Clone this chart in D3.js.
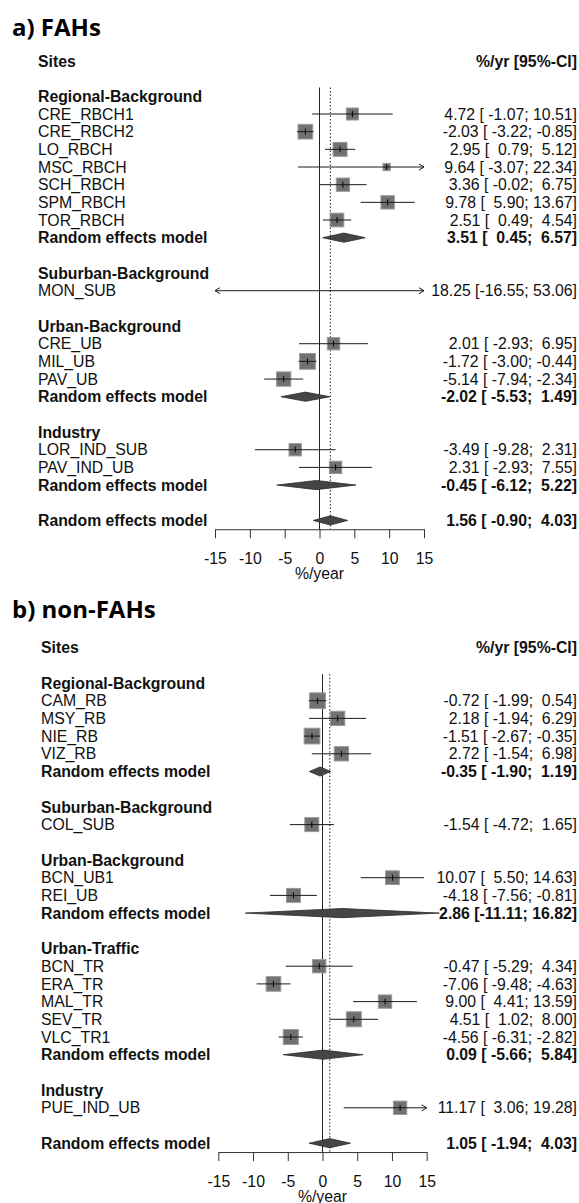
<!DOCTYPE html>
<html>
<head>
<meta charset="utf-8">
<script src="https://cdn.jsdelivr.net/npm/d3@7"></script>
<style>
  body { margin: 0; background: #fff; }
  svg text { font-family: "Liberation Sans", Arial, sans-serif; font-size: 15.8px; fill: #111; white-space: pre; }
  svg text.title { font-family: "Open Sans", sans-serif; font-weight: 700; font-size: 24px; fill: #000; }
  svg text.b { font-weight: bold; }
</style>
</head>
<body>
<svg id="chart" width="579" height="1203"></svg>
<script>
// a) FAHs
const groupsA = ["Regional-Background", "Suburban-Background", "Urban-Background", "Industry"]
const sitesA = ["CRE_RBCH1", "CRE_RBCH2", "LO_RBCH", "MSC_RBCH", "SCH_RBCH", "SPM_RBCH", "TOR_RBCH",
                "MON_SUB", "CRE_UB", "MIL_UB", "PAV_UB", "LOR_IND_SUB", "PAV_IND_UB"]
const siteGroupA = [0, 0, 0, 0, 0, 0, 0, 1, 2, 2, 2, 3, 3]
const estA  = [4.72, -2.03, 2.95, 9.64, 3.36, 9.78, 2.51, 18.25, 2.01, -1.72, -5.14, -3.49, 2.31]
const lowA  = [-1.07, -3.22, 0.79, -3.07, -0.02, 5.90, 0.49, -16.55, -2.93, -3.00, -7.94, -9.28, -2.93]
const highA = [10.51, -0.85, 5.12, 22.34, 6.75, 13.67, 4.54, 53.06, 6.95, -0.44, -2.34, 2.31, 7.55]
const weightA = [5.8, 8.6, 7.8, 2.1, 7.1, 7.1, 7.5, 0.4, 6.1, 9.9, 8.2, 6.1, 6.1]
const remEstA  = [3.51, null, -2.02, -0.45]
const remLowA  = [0.45, null, -5.53, -6.12]
const remHighA = [6.57, null, 1.49, 5.22]
const overallA = [1.56, -0.90, 4.03]

// b) non-FAHs
const groupsB = ["Regional-Background", "Suburban-Background", "Urban-Background", "Urban-Traffic", "Industry"]
const sitesB = ["CAM_RB", "MSY_RB", "NIE_RB", "VIZ_RB", "COL_SUB", "BCN_UB1", "REI_UB",
                "BCN_TR", "ERA_TR", "MAL_TR", "SEV_TR", "VLC_TR1", "PUE_IND_UB"]
const siteGroupB = [0, 0, 0, 0, 1, 2, 2, 3, 3, 3, 3, 3, 4]
const estB  = [-0.72, 2.18, -1.51, 2.72, -1.54, 10.07, -4.18, -0.47, -7.06, 9.00, 4.51, -4.56, 11.17]
const lowB  = [-1.99, -1.94, -2.67, -1.54, -4.72, 5.50, -7.56, -5.29, -9.48, 4.41, 1.02, -6.31, 3.06]
const highB = [0.54, 6.29, -0.35, 6.98, 1.65, 14.63, -0.81, 4.34, -4.63, 13.59, 8.00, -2.82, 19.28]
const weightB = [9.9, 8.2, 9.9, 8.2, 7.8, 7.5, 7.8, 7.1, 8.6, 7.1, 9.0, 9.0, 7.1]
const remEstB  = [-0.35, null, 2.86, 0.09, null]
const remLowB  = [-1.90, null, -11.11, -5.66, null]
const remHighB = [1.19, null, 16.82, 5.84, null]
const overallB = [1.05, -1.94, 4.03]

const xTicks = [-15, -10, -5, 0, 5, 10, 15]
const svg = d3.select("#chart")

function pad(v, w) {
    const s = v.toFixed(2)
    return " ".repeat(Math.max(0, w - s.length)) + s
}
function ciText(e, l, h) {
    return pad(e, 5) + " [" + pad(l, 6) + "; " + pad(h, 5) + "]"
}

function drawPanel(p) {
    const g = svg.append("g")
    const x = d3.scaleLinear().domain([-15, 15]).range([p.x0, p.x1])
    const y = r => p.row0 + r * p.rowH
    const box = d3.scaleSqrt().domain([0, 1]).range([0, 5])

    // build the row layout
    const rows = []
    let r = -1
    p.groups.forEach(function(name, gi) {
        rows.push({type: "head", label: name, r: r++})
        p.sites.forEach(function(s, i) {
            if (p.siteGroup[i] === gi) rows.push({type: "site", i: i, label: s, r: r++})
        })
        if (p.remEst[gi] !== null) {
            rows.push({type: "rem", e: p.remEst[gi], l: p.remLow[gi], h: p.remHigh[gi], r: r++})
        }
        r++
    })
    rows.push({type: "rem", e: p.overall[0], l: p.overall[1], h: p.overall[2], r: r})
    const axisY = y(r) + p.rowH / 2

    // title and headers
    g.append("text").attr("class", "title").attr("x", 12).attr("y", p.titleY).text(p.title)
    g.append("text").attr("class", "b").attr("x", p.labelX).attr("y", y(-3)).attr("dy", "0.36em").text("Sites")
    g.append("text").attr("class", "b").attr("x", 577).attr("y", y(-3)).attr("dy", "0.36em")
        .attr("text-anchor", "end").text("%/yr [95%-CI]")

    // reference lines
    const topY = y(-1.5)
    g.append("line").attr("x1", x(0)).attr("x2", x(0)).attr("y1", topY).attr("y2", axisY)
        .attr("stroke", "#222").attr("stroke-width", 1)
    g.append("line").attr("x1", x(p.overall[0])).attr("x2", x(p.overall[0])).attr("y1", topY).attr("y2", axisY)
        .attr("stroke", "#222").attr("stroke-width", 1).attr("stroke-dasharray", "1.5,2")

    rows.forEach(function(row) {
        const cy = y(row.r)
        if (row.type === "head") {
            g.append("text").attr("class", "b").attr("x", p.labelX).attr("y", cy).attr("dy", "0.36em").text(row.label)
            return
        }
        if (row.type === "site") {
            const i = row.i
            const e = p.est[i], l = p.low[i], h = p.high[i]
            g.append("text").attr("x", p.labelX).attr("y", cy).attr("dy", "0.36em").text(row.label)
            g.append("text").attr("x", 577).attr("y", cy).attr("dy", "0.36em").attr("text-anchor", "end")
                .text(ciText(e, l, h))
            if (e >= -15 && e <= 15) {
                const s = box(p.weight[i])
                g.append("rect").attr("x", x(e) - s / 2).attr("y", cy - s / 2).attr("width", s).attr("height", s)
                    .attr("fill", "#717171").attr("stroke", "#9a9a9a").attr("stroke-width", 1)
            }
            const lx = x(Math.max(l, -15)), hx = x(Math.min(h, 15))
            g.append("line").attr("x1", lx).attr("x2", hx).attr("y1", cy).attr("y2", cy)
                .attr("stroke", "#1a1a1a").attr("stroke-width", 1)
            if (l < -15) {
                g.append("path").attr("d", `M${lx + 5},${cy - 3}L${lx},${cy}L${lx + 5},${cy + 3}`)
                    .attr("fill", "none").attr("stroke", "#1a1a1a")
            }
            if (h > 15) {
                g.append("path").attr("d", `M${hx - 5},${cy - 3}L${hx},${cy}L${hx - 5},${cy + 3}`)
                    .attr("fill", "none").attr("stroke", "#1a1a1a")
            }
            if (e >= -15 && e <= 15) {
                g.append("line").attr("x1", x(e)).attr("x2", x(e)).attr("y1", cy - 3).attr("y2", cy + 3)
                    .attr("stroke", "#000").attr("stroke-width", 1)
            }
            return
        }
        // random effects model
        g.append("path")
            .attr("d", `M${x(row.l)},${cy}L${x(row.e)},${cy - 4.6}L${x(row.h)},${cy}L${x(row.e)},${cy + 4.6}Z`)
            .attr("fill", "#454545").attr("stroke", "#2a2a2a").attr("stroke-width", 0.8)
        g.append("text").attr("class", "b").attr("x", p.labelX).attr("y", cy).attr("dy", "0.36em")
            .text("Random effects model")
        g.append("text").attr("class", "b").attr("x", 577).attr("y", cy).attr("dy", "0.36em")
            .attr("text-anchor", "end").text(ciText(row.e, row.l, row.h))
    })

    // axis
    const ax = g.append("g").attr("transform", `translate(0,${axisY})`)
        .call(d3.axisBottom(x).tickValues(xTicks).tickSize(9).tickSizeOuter(0).tickPadding(15)
            .tickFormat(d => String(d)))
    ax.select(".domain").attr("stroke", "#333")
    ax.selectAll(".tick line").attr("stroke", "#333")
    ax.selectAll(".tick text").attr("fill", "#111")
        .style("font-family", '"Liberation Sans", Arial, sans-serif').style("font-size", "15.8px")
    g.append("text").attr("x", x(0)).attr("y", axisY + 44).attr("dy", "0.36em").attr("text-anchor", "middle")
        .text("%/year")
}

drawPanel({
    title: "a) FAHs", titleY: 36,
    groups: groupsA, sites: sitesA, siteGroup: siteGroupA,
    est: estA, low: lowA, high: highA, weight: weightA,
    remEst: remEstA, remLow: remLowA, remHigh: remHighA, overall: overallA,
    x0: 215, x1: 424, row0: 114, rowH: 17.67, labelX: 38
})
drawPanel({
    title: "b) non-FAHs", titleY: 618,
    groups: groupsB, sites: sitesB, siteGroup: siteGroupB,
    est: estB, low: lowB, high: highB, weight: weightB,
    remEst: remEstB, remLow: remLowB, remHigh: remHighB, overall: overallB,
    x0: 218.3, x1: 426.7, row0: 700.7, rowH: 17.7, labelX: 41
})
</script>
</body>
</html>
